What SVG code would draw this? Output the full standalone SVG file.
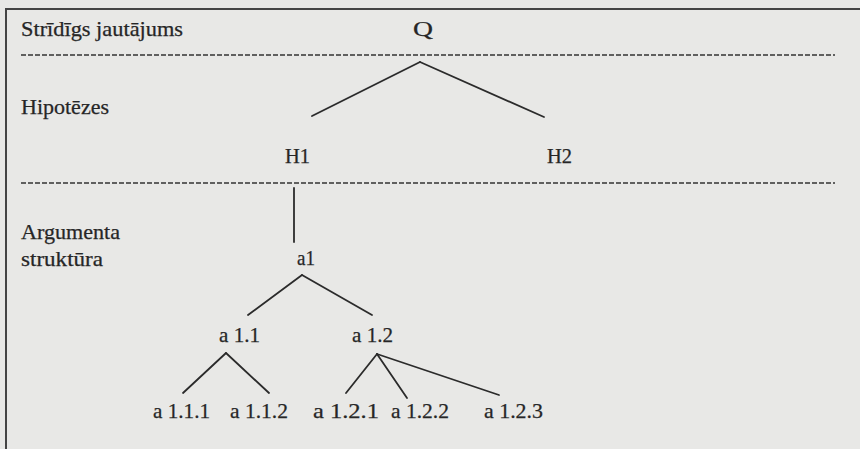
<svg xmlns="http://www.w3.org/2000/svg" width="860" height="449" viewBox="0 0 860 449">
<style>
text{font-family:"Liberation Serif","Times New Roman",serif;font-size:21px;fill:#262626;stroke:#262626;stroke-width:0.25}
.frame{stroke:#444;stroke-width:2;fill:none}
.dash{stroke:#333;stroke-width:1.3;stroke-dasharray:5 2;fill:none}
.conn line{stroke:#2b2b2b;stroke-width:1.8;stroke-linecap:round}
</style>
<rect width="860" height="449" fill="#e8e8e6"/>
<g id="frame">
<line class="frame" x1="5" y1="9" x2="860" y2="9"/>
<line class="frame" x1="6" y1="9" x2="6" y2="449"/>
<line class="dash" x1="21" y1="55" x2="835" y2="55"/>
<line class="dash" x1="21" y1="183" x2="835" y2="183"/>
</g>
<g id="row-labels">
<text x="21" y="36" textLength="162" lengthAdjust="spacingAndGlyphs">Strīdīgs jautājums</text>
<text x="21" y="114" textLength="88" lengthAdjust="spacingAndGlyphs">Hipotēzes</text>
<text x="21" y="239" textLength="99" lengthAdjust="spacingAndGlyphs">Argumenta</text>
<text x="21" y="266" textLength="82" lengthAdjust="spacingAndGlyphs">struktūra</text>
</g>
<g class="conn" id="connectors">
<line x1="420" y1="62" x2="312" y2="116"/>
<line x1="420" y1="62" x2="544" y2="117"/>
<line x1="294" y1="188" x2="294" y2="242"/>
<line x1="302" y1="275" x2="248" y2="315"/>
<line x1="302" y1="275" x2="372" y2="315"/>
<line x1="226" y1="353" x2="183" y2="393"/>
<line x1="226" y1="353" x2="269" y2="393"/>
<line x1="377" y1="354" x2="346" y2="393"/>
<line x1="377" y1="354" x2="407" y2="398"/>
<line x1="377" y1="354" x2="499" y2="395"/>
</g>
<g id="Q"><text x="413" y="36" textLength="20" lengthAdjust="spacingAndGlyphs">Q</text></g>
<g id="H1"><text x="285" y="163" textLength="25" lengthAdjust="spacingAndGlyphs">H1</text></g>
<g id="H2"><text x="547" y="163" textLength="25" lengthAdjust="spacingAndGlyphs">H2</text></g>
<g id="a1"><text x="297" y="265" textLength="18" lengthAdjust="spacingAndGlyphs">a1</text></g>
<g id="a1.1"><text x="219" y="342" textLength="41" lengthAdjust="spacingAndGlyphs">a 1.1</text></g>
<g id="a1.2"><text x="352" y="342" textLength="41" lengthAdjust="spacingAndGlyphs">a 1.2</text></g>
<g id="a1.1.1"><text x="153" y="418" textLength="57" lengthAdjust="spacingAndGlyphs">a 1.1.1</text></g>
<g id="a1.1.2"><text x="230" y="418" textLength="58" lengthAdjust="spacingAndGlyphs">a 1.1.2</text></g>
<g id="a1.2.1"><text x="313" y="418" textLength="66" lengthAdjust="spacingAndGlyphs">a 1.2.1</text></g>
<g id="a1.2.2"><text x="391" y="418" textLength="58" lengthAdjust="spacingAndGlyphs">a 1.2.2</text></g>
<g id="a1.2.3"><text x="484" y="418" textLength="59" lengthAdjust="spacingAndGlyphs">a 1.2.3</text></g>
</svg>
